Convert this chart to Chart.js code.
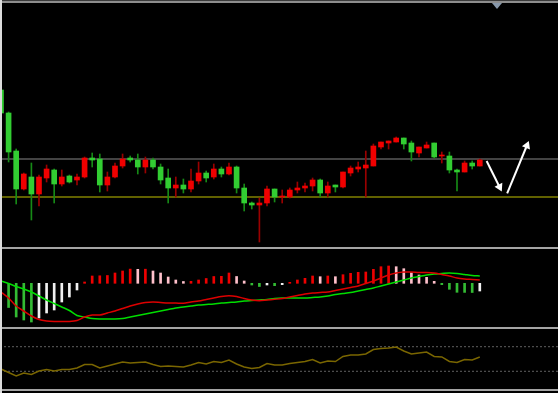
<!DOCTYPE html>
<html>
  <head>
    <title>Price chart</title>
    <script src="https://cdn.jsdelivr.net/npm/chart.js"></script>
    <style>
      body {
        margin: 0;
        background: #000;
        width: 558px;
        height: 393px;
        overflow: hidden;
        position: relative;
      }
      canvas {
        position: absolute;
        left: 0;
      }
      .line {
        position: absolute;
        left: 0;
        width: 558px;
        height: 2px;
        background: #a4a4a4;
      }
      #marker {
        position: absolute;
        left: 492px;
        top: 3px;
        width: 0;
        height: 0;
        border-left: 5px solid transparent;
        border-right: 5px solid transparent;
        border-top: 6px solid #8797aa;
      }
    </style>
  </head>
  <body>
    <canvas id="price_chart" width="558" height="243" style="top: 4px"></canvas>
    <canvas id="macd_chart" width="558" height="79" style="top: 248px"></canvas>
    <canvas id="rsi_chart" width="558" height="61" style="top: 328px"></canvas>

    <div class="line" style="top: 0; height: 1px; background: #3a3a3a"></div>
    <div class="line" style="top: 1px; background: #8d8d8d"></div>
    <div class="line" style="top: 247px"></div>
    <div class="line" style="top: 327px"></div>
    <div class="line" style="top: 389px"></div>
    <div style="position: absolute; left: 0; top: 0; width: 2px; height: 393px; background: #dcdcdc"></div>
    <div id="marker"></div>

    <script>
      // candles, one per bar, red = close above open
      var openValues = [
        21.0, 18.7, 14.9, 11.1, 12.3, 10.6, 12.2, 13.0, 11.6, 12.4,
        12.0, 12.3, 14.2, 14.1, 11.5, 12.3, 13.4, 14.2, 14.0, 13.3,
        14.0, 13.3, 12.2, 11.2, 11.5, 11.1, 11.9, 12.7, 12.3, 13.1,
        12.6, 13.3, 11.2, 9.7, 9.5, 9.7, 11.1, 10.3, 10.3, 11.0,
        11.2, 11.4, 12.0, 10.7, 11.5, 11.3, 12.7, 13.1, 13.2, 13.4,
        15.3, 15.7, 15.8, 16.2, 15.7, 14.7, 15.2, 15.7, 14.4, 14.4,
        13.0, 12.8, 13.7, 13.4,
      ];
      var highValues = [
        21.2, 18.8, 15.1, 12.7, 13.7, 12.5, 13.5, 13.1, 13.0, 12.5,
        12.6, 14.3, 14.7, 14.6, 12.8, 13.7, 14.6, 14.4, 14.6, 14.3,
        14.2, 13.6, 13.1, 12.3, 12.1, 13.1, 13.8, 12.9, 13.6, 13.3,
        13.7, 13.4, 11.6, 9.8, 10.2, 11.4, 11.1, 11.0, 11.2, 11.8,
        11.7, 12.2, 12.1, 11.8, 11.5, 12.8, 13.4, 13.8, 14.9, 15.6,
        15.8, 15.9, 16.3, 16.2, 15.9, 15.3, 15.8, 15.7, 14.8, 14.8,
        13.1, 13.9, 13.9, 14.1,
      ];
      var lowValues = [
        18.5, 13.8, 9.6, 11.0, 8.0, 9.4, 11.8, 9.7, 11.4, 11.7,
        11.5, 12.2, 13.3, 10.8, 10.9, 12.2, 13.2, 13.8, 12.6, 12.7,
        13.1, 11.6, 9.7, 10.3, 10.7, 10.8, 11.6, 11.8, 12.1, 12.3,
        12.5, 10.7, 8.9, 9.1, 5.8, 9.4, 9.8, 9.7, 10.2, 10.7,
        10.8, 10.9, 10.3, 10.3, 10.8, 11.2, 12.4, 12.8, 10.3, 13.4,
        15.1, 15.1, 15.8, 15.1, 13.9, 14.3, 15.2, 14.2, 13.7, 12.7,
        10.9, 12.8, 13.1, 13.4,
      ];
      var closeValues = [
        18.7, 14.8, 11.1, 12.6, 10.6, 12.3, 13.1, 11.6, 12.3, 11.8,
        12.3, 14.2, 14.0, 11.5, 12.3, 13.4, 14.1, 14.0, 13.3, 14.0,
        13.3, 12.0, 11.2, 11.5, 11.1, 11.9, 12.7, 12.2, 13.1, 12.6,
        13.3, 11.2, 9.7, 9.5, 9.7, 11.1, 10.3, 10.4, 11.0, 11.2,
        11.4, 12.0, 10.7, 11.4, 11.3, 12.8, 13.2, 13.3, 13.5, 15.4,
        15.8, 15.9, 16.2, 15.6, 14.8, 15.3, 15.5, 14.3, 14.5, 13.0,
        12.8, 13.7, 13.4, 14.0,
      ];

      // horizontal levels on the price panel
      var resistanceLevel = 14.1;
      var supportLevel = 10.3;

      // hand drawn arrows: [bar, price] start and end
      var arrowDown = [[63.9, 13.9], [65.6, 11.3]];
      var arrowUp = [[66.6, 10.67], [69.2, 15.45]];

      // MACD panel
      var macdValues = [
        -0.87, -1.47, -2.27, -2.77, -3.27, -3.62, -3.77, -3.82, -3.82, -3.82,
        -3.72, -3.37, -3.17, -3.17, -2.97, -2.77, -2.52, -2.27, -2.07, -1.92,
        -1.87, -1.92, -1.97, -1.97, -2.0, -1.87, -1.77, -1.62, -1.47, -1.32,
        -1.24, -1.32, -1.52, -1.67, -1.74, -1.67, -1.6, -1.52, -1.37, -1.22,
        -1.07, -0.97, -0.92, -0.87, -0.72, -0.57, -0.42, -0.27, -0.02, 0.23,
        0.53, 0.83, 1.03, 1.13, 1.13, 1.08, 1.08, 1.03, 0.88, 0.73,
        0.53, 0.43, 0.38, 0.33,
      ];
      var signalValues = [
        0.23, -0.02, -0.32, -0.57, -0.87, -1.27, -1.67, -2.02, -2.37, -2.72,
        -3.22, -3.37, -3.52, -3.57, -3.57, -3.57, -3.52, -3.37, -3.22, -3.07,
        -2.92, -2.77, -2.62, -2.47, -2.37, -2.27, -2.17, -2.12, -2.07, -1.97,
        -1.92, -1.87, -1.77, -1.72, -1.67, -1.62, -1.52, -1.47, -1.47, -1.47,
        -1.47, -1.42, -1.37, -1.27, -1.12, -1.02, -0.92, -0.77, -0.62, -0.47,
        -0.27, -0.07, 0.13, 0.33, 0.53, 0.68, 0.83, 0.93, 0.98, 1.03,
        0.98, 0.88, 0.78, 0.73,
      ];
      var histValues = [
        null, -2.42, -3.37, -3.67, -3.87, -3.47, -2.97, -2.67, -1.87, -1.37,
        -0.67, 0.13, 0.73, 0.75, 0.78, 1.03, 1.23, 1.42, 1.4, 1.41,
        1.23, 1.03, 0.63, 0.33, 0.18, 0.2, 0.33, 0.48, 0.68, 0.7,
        1.03, 0.68, 0.23, -0.17, -0.32, -0.17, -0.24, -0.14, 0.1, 0.33,
        0.5, 0.73, 0.66, 0.73, 0.66, 0.86, 1.0, 1.1, 1.13, 1.4,
        1.66, 1.73, 1.66, 1.46, 1.06, 0.83, 0.6, 0.2, -0.14, -0.6,
        -0.9, -0.91, -0.92, -0.77,
      ];

      // oscillator panel
      var rsiValues = [
        33.7, 28.0, 22.4, 27.2, 24.8, 30.5, 32.9, 30.5, 32.9, 32.9,
        35.4, 41.1, 41.1, 35.4, 38.6, 41.9, 45.1, 43.5, 44.3, 45.1,
        41.1, 37.8, 38.6, 37.8, 37.0, 40.2, 44.3, 41.9, 45.9, 44.3,
        48.4, 41.9, 37.0, 34.6, 36.2, 42.7, 40.2, 40.2, 42.7, 44.3,
        45.9, 49.2, 43.5, 46.7, 45.9, 54.1, 56.5, 56.5, 58.1, 65.4,
        67.1, 67.9, 69.5, 63.0, 58.1, 59.7, 61.4, 54.1, 53.3, 45.9,
        44.3, 49.2, 48.4, 53.3,
      ];
      var rsiLevels = [70, 30];

      var xMin = -0.13;
      var xMax = 73.29;

      function isUp(i) {
        return closeValues[i] > openValues[i];
      }

      function levelLine(value, color, width, dash) {
        return {
          type: "line",
          data: [
            { x: xMin, y: value },
            { x: xMax, y: value },
          ],
          borderColor: color,
          borderWidth: width,
          borderDash: dash || [],
          pointRadius: 0,
          order: 9,
        };
      }

      function arrowLine(points) {
        return {
          type: "line",
          data: points.map(function (p) {
            return { x: p[0], y: p[1] };
          }),
          borderColor: "#ffffff",
          borderWidth: 2,
          pointRadius: [0, 5],
          pointStyle: "triangle",
          pointBackgroundColor: "#ffffff",
          pointBorderWidth: 0,
          pointRotation: function (ctx) {
            var d = ctx.dataset.data;
            var sx = ctx.chart.scales.x;
            var sy = ctx.chart.scales.y;
            var dx = sx.getPixelForValue(d[1].x) - sx.getPixelForValue(d[0].x);
            var dy = sy.getPixelForValue(d[1].y) - sy.getPixelForValue(d[0].y);
            return (Math.atan2(dx, -dy) * 180) / Math.PI;
          },
          order: 1,
        };
      }

      function baseOptions(yMin, yMax) {
        return {
          responsive: false,
          animation: false,
          devicePixelRatio: 1,
          layout: { padding: 0, autoPadding: false },
          plugins: { legend: { display: false }, tooltip: { enabled: false } },
          scales: {
            x: { type: "linear", display: false, min: xMin, max: xMax, offset: false },
            y: { type: "linear", display: false, min: yMin, max: yMax },
          },
        };
      }

      //////////////////////// PRICE PANEL ////////////////////////
      var wickData = openValues.map(function (v, i) {
        return { x: i, y: [lowValues[i], highValues[i]] };
      });
      var bodyData = openValues.map(function (v, i) {
        return { x: i, y: [openValues[i], closeValues[i]] };
      });

      new Chart(document.getElementById("price_chart"), {
        type: "bar",
        data: {
          datasets: [
            levelLine(resistanceLevel, "#5a5a5a", 1.5),
            levelLine(supportLevel, "#828200", 1.5),
            {
              data: wickData,
              barThickness: 1,
              grouped: false,
              backgroundColor: function (ctx) {
                return isUp(ctx.dataIndex) ? "#9a0000" : "#168a16";
              },
              order: 4,
            },
            {
              data: bodyData,
              barThickness: 5,
              grouped: false,
              backgroundColor: function (ctx) {
                return isUp(ctx.dataIndex) ? "#f00000" : "#32cd32";
              },
              order: 3,
            },
            arrowLine(arrowDown),
            arrowLine(arrowUp),
          ],
        },
        options: baseOptions(5.3, 29.6),
      });

      //////////////////////// MACD PANEL ////////////////////////
      function histColor(i) {
        var v = histValues[i];
        var prev = i > 0 ? histValues[i - 1] : null;
        var rising = prev !== null && v > prev;
        if (v >= 0) return rising ? "#ee0000" : "#ffc0cb";
        return rising ? "#f0f0f0" : "#33bb33";
      }

      new Chart(document.getElementById("macd_chart"), {
        type: "bar",
        data: {
          datasets: [
            {
              type: "line",
              data: macdValues.map(function (v, i) {
                return { x: i, y: v };
              }),
              borderColor: "#dd0000",
              borderWidth: 1.5,
              pointRadius: 0,
              tension: 0.3,
              order: 1,
            },
            {
              type: "line",
              data: signalValues.map(function (v, i) {
                return { x: i, y: v };
              }),
              borderColor: "#00dd00",
              borderWidth: 1.5,
              pointRadius: 0,
              tension: 0.3,
              order: 2,
            },
            {
              data: histValues.map(function (v, i) {
                return { x: i, y: v };
              }),
              barThickness: 2,
              grouped: false,
              backgroundColor: function (ctx) {
                return histColor(ctx.dataIndex);
              },
              order: 3,
            },
          ],
        },
        options: baseOptions(-4.37, 3.53),
      });

      //////////////////////// RSI PANEL ////////////////////////
      new Chart(document.getElementById("rsi_chart"), {
        type: "line",
        data: {
          datasets: [
            {
              data: rsiValues.map(function (v, i) {
                return { x: i, y: v };
              }),
              borderColor: "#7a6600",
              borderWidth: 1.5,
              pointRadius: 0,
              tension: 0,
              order: 1,
            },
          ].concat(
            rsiLevels.map(function (lv) {
              return levelLine(lv, "#606060", 1, [2, 2]);
            })
          ),
        },
        options: baseOptions(1.2, 100.4),
      });
    </script>
  </body>
</html>
